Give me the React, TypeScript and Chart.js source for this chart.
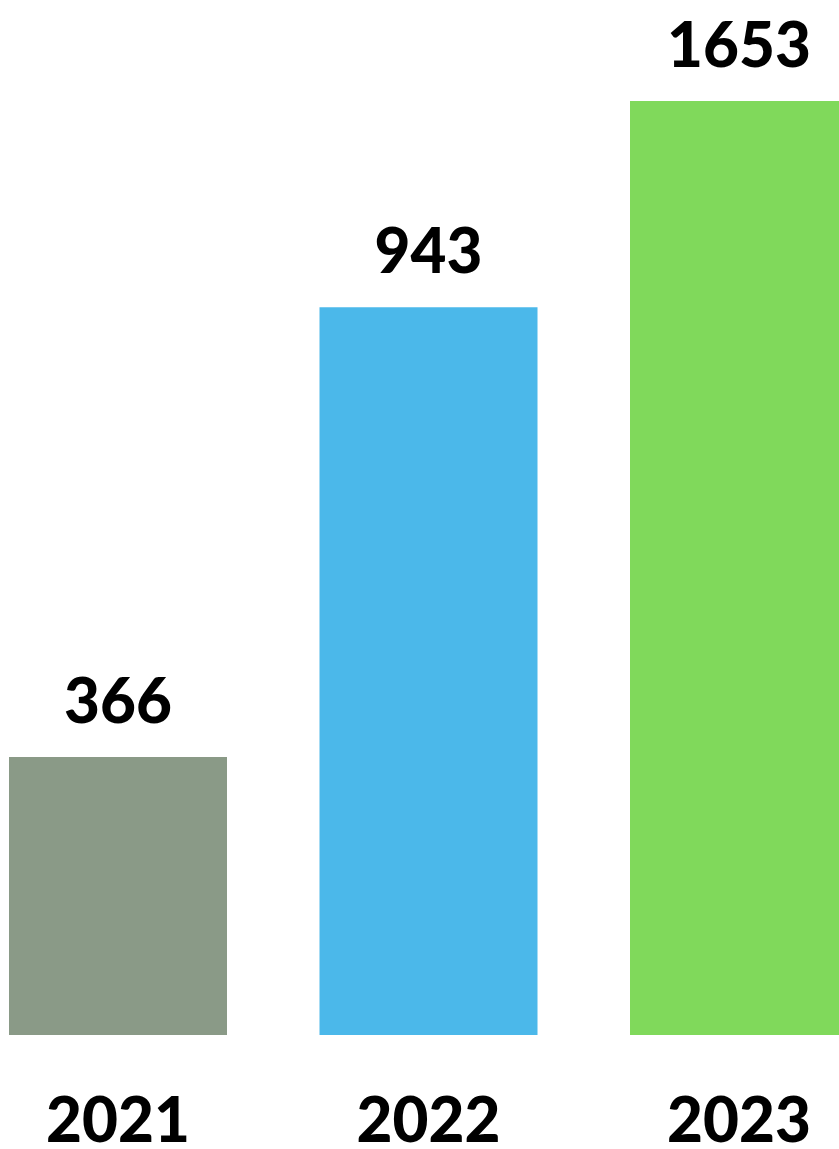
import React, { useEffect, useRef } from "react";
import { Chart, registerables } from "chart.js";

Chart.register(...registerables);

// Categories (x tick labels)
const years = ["2021", "2022", "2023"];
// Values printed above each bar
const valueLabels = [366, 943, 1653];
// Bar lengths as drawn in the reference (the reference is not drawn to scale),
// read from the bar heights relative to the tallest bar (1653)
const barLengths = [492, 1288, 1653];
const barColors = ["#8A9A87", "#4BB8EA", "#80D95B"];

const FONT = "Lato, 'Open Sans', 'DejaVu Sans', sans-serif";

const labelPlugin = {
  id: "labelPlugin",
  afterDatasetsDraw(chart: any) {
    const { ctx, chartArea } = chart;
    const meta = chart.getDatasetMeta(0);
    const xScale = chart.scales.x;
    ctx.save();
    ctx.fillStyle = "#000000";
    ctx.textAlign = "center";
    ctx.textBaseline = "alphabetic";
    ctx.font = `900 62px ${FONT}`;
    meta.data.forEach((bar: any, i: number) => {
      ctx.fillText(String(valueLabels[i]), bar.x, bar.y - 34);
    });
    years.forEach((y, i) => {
      ctx.fillText(y, xScale.getPixelForValue(i), chartArea.bottom + 107);
    });
    ctx.restore();
  },
};

export default function App() {
  const ref = useRef<HTMLCanvasElement | null>(null);
  useEffect(() => {
    if (!ref.current) return;
    const chart = new Chart(ref.current, {
      type: "bar",
      data: {
        labels: years,
        datasets: [
          {
            data: barLengths,
            backgroundColor: barColors,
            borderWidth: 0,
            categoryPercentage: 218 / 310.5,
            barPercentage: 1,
            clip: false as any,
          },
        ],
      },
      options: {
        animation: false,
        responsive: true,
        maintainAspectRatio: false,
        layout: { padding: { left: 118, right: 100, top: 101, bottom: 114 } },
        plugins: {
          legend: { display: false },
          tooltip: { enabled: false },
        },
        scales: {
          x: { display: false, offset: false },
          y: { display: false, min: 0, max: 1653 },
        },
      },
      plugins: [labelPlugin],
    });
    return () => chart.destroy();
  }, []);
  return (
    <div
      style={{
        position: "absolute",
        left: 0,
        top: 0,
        width: 839,
        height: 1149,
        background: "#ffffff",
      }}
    >
      <canvas ref={ref} />
    </div>
  );
}
